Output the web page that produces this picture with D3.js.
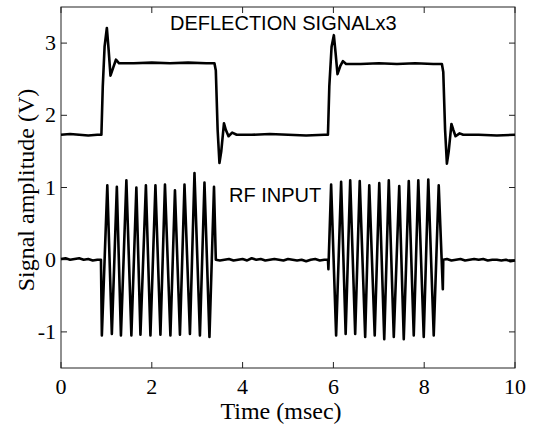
<!DOCTYPE html>
<meta charset="utf-8">
<style>
body { margin: 0; background: #fff; }
.frame { fill: none; stroke: #222; stroke-width: 1; }
.tick-in { stroke: #222; stroke-width: 1; }
.trace { fill: none; stroke: #000; stroke-width: 2.6; stroke-linejoin: round; }
.ticklabel { font: 22px "Liberation Serif", "Times New Roman", serif; fill: #000; }
.axtitle { font: 24px "Liberation Serif", "Times New Roman", serif; fill: #000; }
.note { font: 20px "Liberation Sans", Arial, sans-serif; fill: #000; }
</style>
<svg width="535" height="426"></svg>
<script src="https://d3js.org/d3.v7.min.js"></script>
<script>

var svg = d3.select("svg"),
    plotLeft = 61, plotRight = 515, plotTop = 7, plotBottom = 368;

var timeTicks = [0, 2, 4, 6, 8, 10];
var ampTicks = [-1, 0, 1, 2, 3];

// deflection signal (x3), [time msec, volts]
var deflection = [
  [0, 1.73], [0.2, 1.74], [0.4, 1.73], [0.6, 1.72], [0.8, 1.73], [0.89, 1.73],
  [0.92, 2.4], [0.96, 2.95], [1.01, 3.21], [1.05, 2.9], [1.09, 2.55], [1.15, 2.66],
  [1.21, 2.77], [1.28, 2.72], [1.6, 2.72], [2.0, 2.73], [2.4, 2.72], [2.8, 2.73],
  [3.2, 2.72], [3.38, 2.72], [3.41, 2.62], [3.45, 1.8], [3.49, 1.34], [3.53, 1.5],
  [3.59, 1.89], [3.63, 1.8], [3.69, 1.71], [3.77, 1.76], [3.87, 1.73], [4.2, 1.73],
  [4.6, 1.74], [5.0, 1.73], [5.4, 1.72], [5.8, 1.73], [5.88, 1.73],
  [5.91, 2.4], [5.96, 2.95], [6.01, 3.11], [6.05, 2.85], [6.09, 2.57], [6.15, 2.68],
  [6.21, 2.75], [6.28, 2.71], [6.6, 2.71], [7.0, 2.72], [7.4, 2.71], [7.8, 2.72],
  [8.2, 2.71], [8.39, 2.71], [8.42, 2.6], [8.46, 1.8], [8.50, 1.33], [8.54, 1.5],
  [8.60, 1.88], [8.64, 1.8], [8.69, 1.71], [8.78, 1.75], [8.86, 1.73], [9.2, 1.73],
  [9.6, 1.72], [10, 1.73]
];

// RF input, [time msec, volts]
var rfInput = [
  [0, 0.01], [0.1, 0.02], [0.2, 0.0], [0.3, 0.01], [0.4, 0.02], [0.5, 0.0],
  [0.6, 0.01], [0.7, -0.01], [0.8, 0.0], [0.88, 0.0],
  [0.90, -1.05], [1.02, 1.03], [1.12, -1.03], [1.23, 1.01], [1.32, -1.05], [1.44, 1.10],
  [1.55, -1.05], [1.66, 1.00], [1.75, -1.04], [1.87, 1.03], [1.97, -1.05], [2.08, 1.03],
  [2.19, -1.04], [2.29, 1.04], [2.41, -1.05], [2.51, 0.96], [2.62, -1.04], [2.72, 1.04],
  [2.84, -1.03], [2.94, 1.20], [3.06, -1.05], [3.16, 1.07], [3.27, -1.07], [3.37, 1.01],
  [3.41, 0.0],
  [3.5, -0.01], [3.6, 0.0], [3.7, 0.01], [3.8, -0.01], [3.9, 0.0], [4.0, 0.01],
  [4.1, -0.01], [4.2, 0.02], [4.3, 0.0], [4.4, 0.01], [4.5, -0.01], [4.6, 0.0],
  [4.7, 0.01], [4.8, 0.0], [4.9, -0.01], [5.0, 0.01], [5.1, 0.0], [5.2, -0.01],
  [5.3, 0.0], [5.4, -0.02], [5.5, 0.0], [5.6, 0.01], [5.7, -0.01], [5.8, 0.0], [5.88, 0.0],
  [5.89, -0.13], [5.95, 1.04], [6.06, -1.05], [6.17, 1.08], [6.27, -1.03], [6.37, 1.10],
  [6.48, -1.03], [6.58, 1.09], [6.70, -1.07], [6.79, 1.03], [6.91, -1.05], [7.01, 1.06],
  [7.12, -1.10], [7.22, 1.10], [7.33, -1.07], [7.45, 1.02], [7.55, -1.10], [7.66, 1.09],
  [7.77, -1.05], [7.87, 1.10], [7.99, -1.07], [8.09, 1.11], [8.21, -1.05], [8.32, 1.03],
  [8.41, -0.41], [8.42, 0.0],
  [8.5, 0.01], [8.6, -0.01], [8.7, 0.0], [8.8, 0.01], [8.9, -0.01], [9.0, 0.0],
  [9.1, 0.01], [9.2, 0.0], [9.3, 0.01], [9.4, -0.01], [9.5, 0.0], [9.6, 0.0],
  [9.7, -0.01], [9.8, 0.0], [9.9, -0.02], [10, -0.01]
];

var x = d3.scaleLinear().domain([0, 10]).range([plotLeft, plotRight]);
var y = d3.scaleLinear().domain([-1.5, 3.5]).range([plotBottom, plotTop]);

var line = d3.line()
    .x(d => x(d[0]))
    .y(d => y(d[1]));

// inward ticks on all four sides
var tlen = 6;
var ticks = svg.append("g");
ticks.selectAll(".xb").data(timeTicks).enter().append("line")
    .attr("class", "tick-in")
    .attr("x1", d => x(d)).attr("x2", d => x(d))
    .attr("y1", plotBottom).attr("y2", plotBottom - tlen);
ticks.selectAll(".xt").data(timeTicks).enter().append("line")
    .attr("class", "tick-in")
    .attr("x1", d => x(d)).attr("x2", d => x(d))
    .attr("y1", plotTop).attr("y2", plotTop + tlen);
ticks.selectAll(".yl").data(ampTicks).enter().append("line")
    .attr("class", "tick-in")
    .attr("x1", plotLeft).attr("x2", plotLeft + tlen)
    .attr("y1", d => y(d)).attr("y2", d => y(d));
ticks.selectAll(".yr").data(ampTicks).enter().append("line")
    .attr("class", "tick-in")
    .attr("x1", plotRight).attr("x2", plotRight - tlen)
    .attr("y1", d => y(d)).attr("y2", d => y(d));

svg.append("rect")
    .attr("class", "frame")
    .attr("x", plotLeft).attr("y", plotTop)
    .attr("width", plotRight - plotLeft).attr("height", plotBottom - plotTop);

svg.append("path").datum(deflection).attr("class", "trace").attr("d", line);
svg.append("path").datum(rfInput).attr("class", "trace").attr("d", line);

// tick labels
svg.selectAll(".xl").data(timeTicks).enter().append("text")
    .attr("class", "ticklabel")
    .attr("x", d => x(d)).attr("y", 394)
    .attr("text-anchor", "middle")
    .text(d => d);
svg.selectAll(".yl2").data(ampTicks).enter().append("text")
    .attr("class", "ticklabel")
    .attr("x", 56).attr("y", d => y(d) + 7)
    .attr("text-anchor", "end")
    .text(d => d);

svg.append("text").attr("class", "axtitle")
    .attr("x", 281).attr("y", 419)
    .attr("text-anchor", "middle")
    .text("Time (msec)");
svg.append("text").attr("class", "axtitle")
    .attr("transform", "translate(34,190) rotate(-90)")
    .attr("text-anchor", "middle")
    .text("Signal amplitude (V)");

svg.append("text").attr("class", "note")
    .attr("x", 170).attr("y", 30)
    .text("DEFLECTION SIGNALx3");
svg.append("text").attr("class", "note")
    .attr("x", 229).attr("y", 202)
    .text("RF INPUT");

</script>
